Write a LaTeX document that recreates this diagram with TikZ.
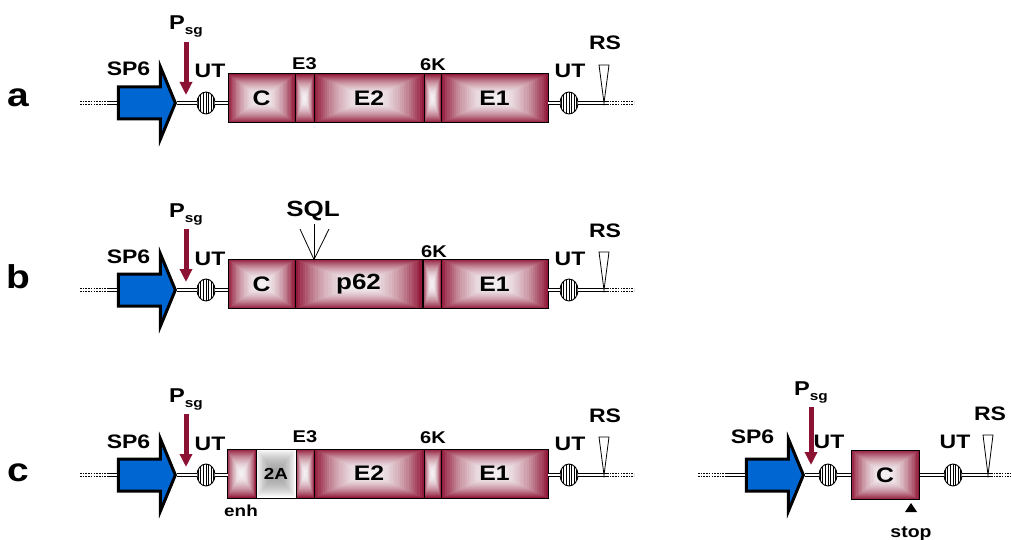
\documentclass[tikz,border=0pt]{standalone}
\usepackage{fontspec}
\setmainfont{Liberation Sans}[FakeStretch=1.18]
\usepackage{tikz}
\usetikzlibrary{arrows.meta}
\usetikzlibrary{calc}
\usetikzlibrary{shapes.geometric}
\usetikzlibrary{shapes.arrows}

\definecolor{boxred}{RGB}{146,26,58}
\definecolor{boxwhite}{RGB}{244,240,242}
\definecolor{sp6blue}{RGB}{0,102,210}
\definecolor{psgred}{RGB}{140,18,52}
\newcommand{\lblfont}[1]{\bfseries\fontsize{#1}{#1}\selectfont}

\begin{document}
\begin{tikzpicture}[x=1pt, y=-1pt,
    lbl/.style={inner sep=0pt, anchor=base, font=\lblfont{19.5}},
    sublbl/.style={lbl, font=\lblfont{17}},
    rowlbl/.style={lbl, font=\lblfont{33}},
    psglbl/.style={lbl, font=\lblfont{20}},
    shadebox/.style 2 args={draw, line width=1pt, inner sep=0pt, minimum height=49pt,
      path picture={\foreach \t in {0,0.04,...,0.97}{
          \pgfmathtruncatemacro\pct{100*(1-\t)^2}
          \fill[#1!\pct!#2] ($(path picture bounding box.south west)!\t!(path picture bounding box.center)$)
            rectangle ($(path picture bounding box.north east)!\t!(path picture bounding box.center)$);}}},
    gene/.style={shadebox={boxred}{boxwhite}, font=\lblfont{21}},
    twoa/.style={shadebox={white}{black!35}, font=\lblfont{16}},
    utr/.style={ellipse, draw, fill=white, line width=0.9pt, inner sep=0pt,
      minimum width=18pt, minimum height=22pt,
      path picture={\foreach \k in {-3,...,3}
          \draw[line width=1pt] ([xshift=\k*2.6pt]path picture bounding box.north)
            -- ([xshift=\k*2.6pt]path picture bounding box.south);}},
    sp6/.style={single arrow, draw, line width=3pt, fill=sp6blue, inner xsep=0pt, inner ysep=14.5pt,
      minimum height=57pt, minimum width=69pt, single arrow head extend=20pt,
      single arrow tip angle=135, anchor=tip},
    psg/.style={draw=psgred, line width=5pt, -{Triangle[width=12pt,length=13pt]}},
    dna/.style={double, line width=0.9pt, double distance=2.4pt},
    vector/.style={double, line width=1.1pt, double distance=1.6pt, dash pattern=on 1.6pt off 1.1pt},
    site/.style={draw, fill=white, line width=0.8pt},
    spike/.style={line width=0.8pt}]

  \useasboundingbox (0,0) rectangle (1011,540);

  % row a
  \node[rowlbl] (la) at (18,107) {a};
  \node[gene, minimum width=67pt] (ca) at (261.5,98.5) {C};
  \node[gene, minimum width=19pt] (e3a) at (304.5,98.5) {};
  \node[gene, minimum width=110pt] (e2a) at (369,98.5) {E2};
  \node[gene, minimum width=17pt] (k6a) at (432.5,98.5) {};
  \node[gene, minimum width=107pt] (e1a) at (494.5,98.5) {E1};
  \node[sublbl] (e3la) at (304.5,70) {E3};
  \node[sublbl] (k6la) at (433,71) {6K};

  % row b
  \node[rowlbl] (lb) at (18,288) {b};
  \node[gene, minimum width=67pt] (cb) at (261.5,284) {C};
  \node[gene, minimum width=127pt, font=\lblfont{22}] (p62b) at (358.5,284) {p62};
  \node[gene, minimum width=18pt] (k6b) at (432,284) {};
  \node[gene, minimum width=107pt] (e1b) at (494.5,284) {E1};
  \node[sublbl] (k6lb) at (434,257) {6K};
  \node[lbl, font=\lblfont{22}] (sql) at (313,216) {SQL};
  \coordinate (sqlo) at (314,259.5);
  \coordinate (sqll) at (300,229);
  \coordinate (sqlm) at (314,224);
  \coordinate (sqlr) at (329,229);
  \draw[spike] (sqll) -- (sqlo) -- (sqlr);
  \draw[spike] (sqlm) -- (sqlo);

  % row c
  \node[rowlbl] (lc) at (18,481) {c};
  \node[gene, minimum width=29pt] (enhc) at (241.5,473.5) {};
  \node[twoa, minimum width=40pt] (tac) at (276,473.5) {2A};
  \node[gene, minimum width=18pt] (e3c) at (305,473.5) {};
  \node[gene, minimum width=110pt] (e2c) at (369,473.5) {E2};
  \node[gene, minimum width=17pt] (k6c) at (432.5,473.5) {};
  \node[gene, minimum width=107pt] (e1c) at (494.5,473.5) {E1};
  \node[sublbl] (e3lc) at (305,442) {E3};
  \node[sublbl] (k6lc) at (433,443) {6K};
  \node[lbl, font=\lblfont{16}] (enhl) at (241,516) {enh};

  % vector parts shared by rows a-c
  \foreach \rw/\ry in {a/103,b/290,c/475}{
    \begin{scope}[shift={(0,\ry)}]
      \coordinate (vl\rw) at (80,0);
      \coordinate (vr\rw) at (108,0);
      \node[sp6] (sp6\rw) at (177,0) {};
      \node[lbl] (sp6l\rw) at (128.5,-27) {SP6};
      \node[psglbl] (psgl\rw) at (186,-73) {P\raisebox{-5pt}{\fontsize{13}{13}\selectfont sg}};
      \coordinate (psgt\rw) at (186,-8);
      \node[utr] (ut\rw) at (206,0) {};
      \node[lbl] (utl\rw) at (210,-25) {UT};
      \coordinate (in\rw) at (228,0);
      \coordinate (out\rw) at (548,0);
      \node[utr] (utr\rw) at (569,0) {};
      \node[lbl] (utrl\rw) at (570,-25) {UT};
      \coordinate (rs\rw) at (604,0);
      \node[lbl] (rsl\rw) at (605,-53) {RS};
      \coordinate (vs\rw) at (607,0);
      \coordinate (ve\rw) at (634,0);
      \draw[vector] (vl\rw) -- (vr\rw);
      \draw[dna] (vr\rw) -- (sp6\rw.tail);
      \draw[dna] (sp6\rw.tip) -- (ut\rw);
      \draw[dna] (ut\rw) -- (in\rw);
      \draw[dna] (out\rw) -- (utr\rw);
      \draw[dna] (utr\rw) -- (vs\rw);
      \draw[vector] (vs\rw) -- (ve\rw);
      \draw[site] (rs\rw) -- ++(-5,-38) -- ++(10,0) -- cycle;
      \draw[psg] ([yshift=-4pt]psgl\rw.south) -- (psgt\rw);
    \end{scope}
  }

  % row c, right construct
  \begin{scope}[shift={(0,475)}]
    \coordinate (vld) at (698,0);
    \coordinate (vrd) at (727,0);
    \node[sp6] (sp6d) at (805,0) {};
    \node[lbl] (sp6ld) at (752.5,-32) {SP6};
    \node[psglbl] (psgld) at (811,-80) {P\raisebox{-5pt}{\fontsize{13}{13}\selectfont sg}};
    \coordinate (psgtd) at (811,-10);
    \node[utr] (utd) at (828,0) {};
    \node[lbl] (utld) at (829,-27) {UT};
    \node[gene, minimum width=68pt] (cd) at (885,0) {C};
    \node[utr] (utrd) at (953,0) {};
    \node[lbl] (utrld) at (955,-27) {UT};
    \coordinate (rsd) at (988,0);
    \node[lbl] (rsld) at (990,-55) {RS};
    \coordinate (vsd) at (991,0);
    \coordinate (ved) at (1010,0);
    \coordinate (stopd) at (911,28);
    \node[lbl, font=\lblfont{16.5}] (stopl) at (911,62) {stop};
    \draw[vector] (vld) -- (vrd);
    \draw[dna] (vrd) -- (sp6d.tail);
    \draw[dna] (sp6d.tip) -- (utd);
    \draw[dna] (utd) -- (cd);
    \draw[dna] (cd) -- (utrd);
    \draw[dna] (utrd) -- (vsd);
    \draw[vector] (vsd) -- (ved);
    \draw[site] (rsd) -- ++(-5,-40) -- ++(10,0) -- cycle;
    \fill (stopd) -- ++(6,9) -- ++(-12,0) -- cycle;
    \draw[psg] ([yshift=-4pt]psgld.south) -- (psgtd);
  \end{scope}
\end{tikzpicture}
\end{document}
